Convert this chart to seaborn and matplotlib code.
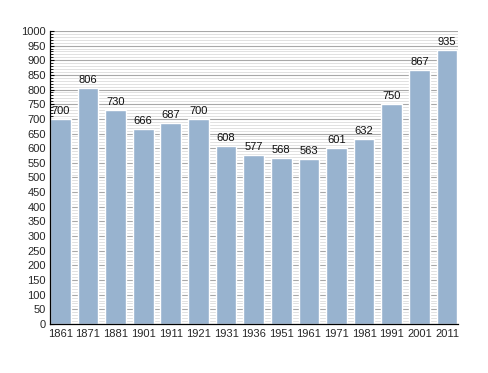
import matplotlib
matplotlib.use("Agg")
import matplotlib.pyplot as plt
import seaborn as sns
import pandas as pd
from matplotlib.ticker import MultipleLocator

years = ["1861", "1871", "1881", "1901", "1911", "1921", "1931", "1936",
         "1951", "1961", "1971", "1981", "1991", "2001", "2011"]
population = [700, 806, 730, 666, 687, 700, 608, 577, 568, 563, 601, 632, 750, 867, 935]

df = pd.DataFrame({"year": years, "pop": population})

sns.set_style("white")
plt.rcParams['font.family'] = ['Liberation Sans', 'DejaVu Sans']

fig = plt.figure(figsize=(4.88, 3.73), dpi=100)
ax = fig.add_axes([0.1025, 0.1314, 0.836, 0.7856])

ax.set_axisbelow(True)
ax.yaxis.set_major_locator(MultipleLocator(50))
ax.yaxis.set_minor_locator(MultipleLocator(10))
ax.grid(which="major", axis="y", color="#a8a8a8", linewidth=0.8)
ax.grid(which="minor", axis="y", color="#dcdcdc", linewidth=0.6)

sns.barplot(data=df, x="year", y="pop", color="#98b3cf", saturation=1,
            width=0.75, ax=ax, zorder=2)

for i, v in enumerate(population):
    ax.text(i, v + 10, str(v), ha="center", va="bottom", fontsize=8, color="#111111")

ax.set_ylim(0, 1000)
ax.set_xlim(-0.375, 14.4)
ax.set_xlabel("")
ax.set_ylabel("")
for s in ["top", "right"]:
    ax.spines[s].set_visible(False)
for s in ["left", "bottom"]:
    ax.spines[s].set_color("black")
    ax.spines[s].set_linewidth(0.9)

ax.tick_params(axis="y", which="major", direction="in", length=3, width=0.8,
               labelsize=8, pad=3, left=True, color="black")
ax.tick_params(axis="y", which="minor", direction="in", length=2, width=0.6,
               left=True, color="black")
ax.tick_params(axis="x", length=0, labelsize=8, pad=3.5)

fig.savefig("out.png", dpi=100)
